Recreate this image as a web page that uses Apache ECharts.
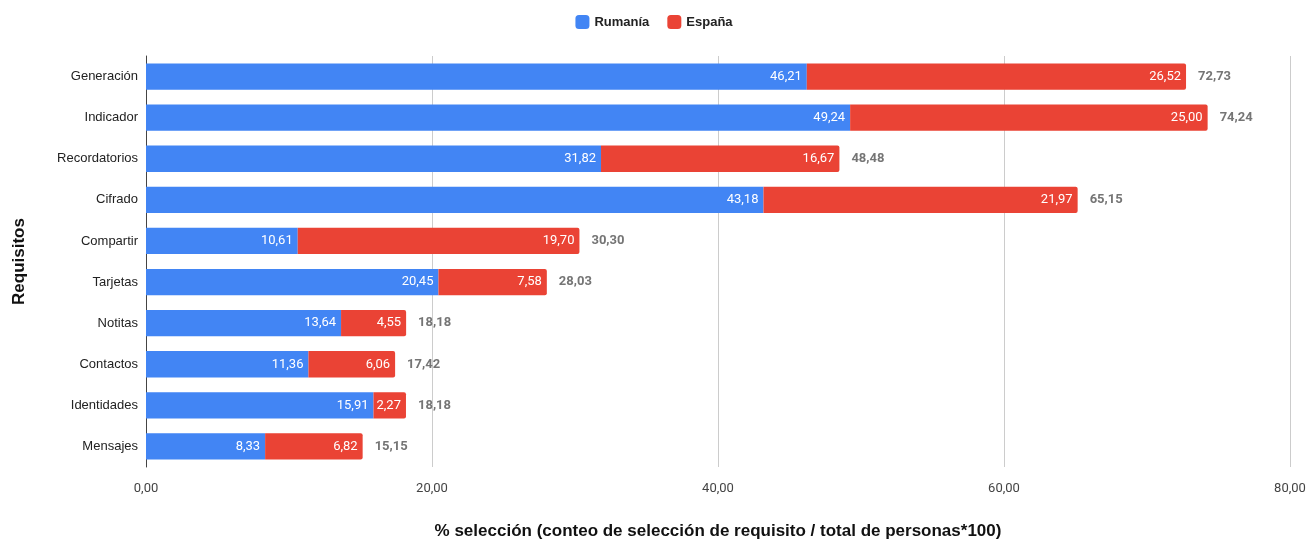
<!DOCTYPE html>
<html><head><meta charset="utf-8">
<script src="https://cdn.jsdelivr.net/npm/echarts@6/dist/echarts.min.js"></script>
<style>html,body{margin:0;padding:0;background:#fff}#c{width:1308px;height:542px}</style>
</head><body><div id="c"></div>
<script>
const categories = ["Generación","Indicador","Recordatorios","Cifrado","Compartir","Tarjetas","Notitas","Contactos","Identidades","Mensajes"];
const rumania = [46.21,49.24,31.82,43.18,10.61,20.45,13.64,11.36,15.91,8.33];
const espana = [26.52,25.00,16.67,21.97,19.70,7.58,4.55,6.06,2.27,6.82];
const totals = [72.73,74.24,48.48,65.15,30.30,28.03,18.18,17.42,18.18,15.15];
const xTicks = [0,20,40,60,80];

const fmt = v => Number(v).toFixed(2).replace('.', ',');
const font = 'Roboto';
const arial = '"Liberation Sans", Arial, sans-serif';
const chart = echarts.init(document.getElementById('c'), null, {renderer:'canvas'});
chart.setOption({
  animation:false,
  textStyle:{fontFamily:font},
  legend:{
    data:['Rumanía','España'], top:10, left:642, 
    itemWidth:14, itemHeight:14, itemGap:18, icon:'roundRect',
    textStyle:{fontFamily:arial, fontWeight:'bold', fontSize:13, color:'#222'}
  },
  grid:{left:146, right:18, top:56, bottom:75, containLabel:false, outerBoundsMode:'none'},
  xAxis:{
    type:'value', min:xTicks[0], max:xTicks[xTicks.length-1], interval:20,
    name:'% selección (conteo de selección de requisito / total de personas*100)',
    nameLocation:'middle', nameGap:56,
    nameTextStyle:{fontFamily:arial, fontWeight:'bold', fontSize:17, color:'#111'},
    axisLabel:{formatter:v=>fmt(v), color:'#444', fontSize:13, margin:15, fontFamily:font},
    axisLine:{show:false}, axisTick:{show:false},
    splitLine:{lineStyle:{color:'#ccc', width:1}}
  },
  yAxis:{
    type:'category', data:categories, inverse:true,
    name:'Requisitos', nameLocation:'middle', nameGap:118, nameRotate:90,
    nameTextStyle:{fontFamily:arial, fontWeight:'bold', fontSize:17, color:'#111'},
    axisLabel:{color:'#222', fontSize:13, margin:8, fontFamily:arial},
    axisLine:{show:true, lineStyle:{color:'#444', width:1}},
    axisTick:{show:false}
  },
  series:[
    {name:'Rumanía', type:'bar', stack:'t', data:rumania, barWidth:'64%',
     itemStyle:{color:'#4285F4'},
     label:{show:true, position:'insideRight', color:'#fff', fontSize:13, fontFamily:font, distance:5, formatter:p=>fmt(p.value)}},
    {name:'España', type:'bar', stack:'t', data:espana, barWidth:'64%',
     itemStyle:{color:'#EA4335', borderRadius:[0,2,2,0]},
     label:{show:true, position:'insideRight', color:'#fff', fontSize:13, fontFamily:font, distance:5, formatter:p=>fmt(p.value)}},
    {name:'Total', type:'bar', stack:'t', data:totals.map(()=>0), barWidth:'64%',
     itemStyle:{color:'transparent'}, silent:true,
     label:{show:true, position:'right', distance:12, color:'#757575', fontWeight:'bold', fontSize:13, fontFamily:font,
            formatter:p=>fmt(totals[p.dataIndex])}}
  ]
});
chart.setOption({legend:{left:'center'}});
</script></body></html>
